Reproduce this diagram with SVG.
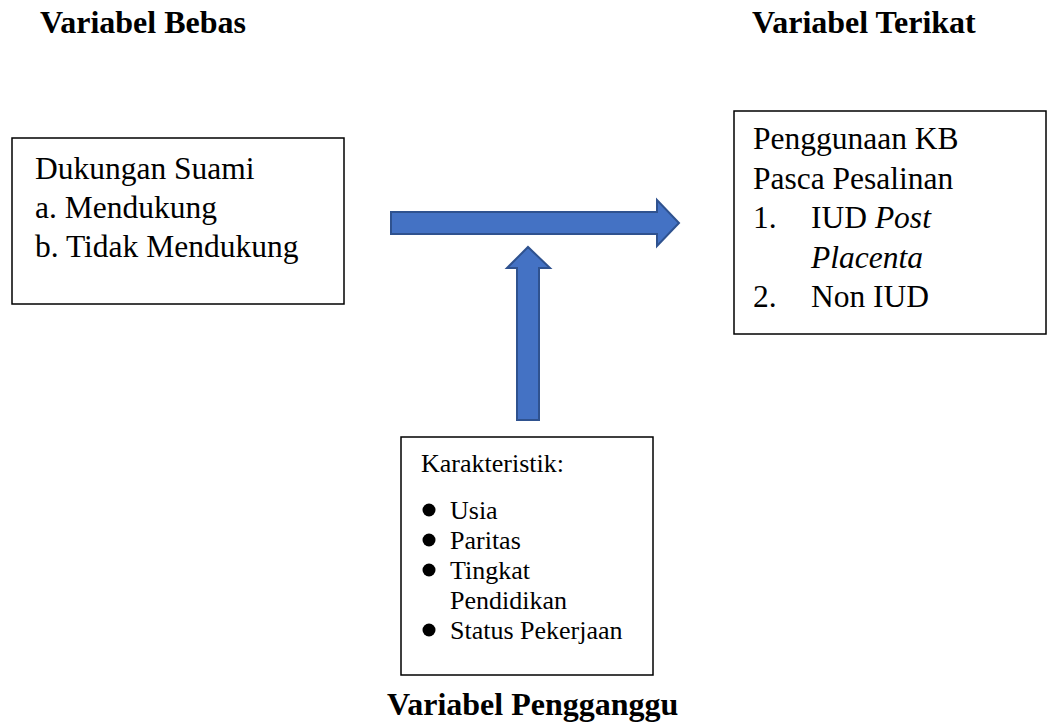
<svg xmlns="http://www.w3.org/2000/svg" width="1047" height="723" viewBox="0 0 1047 723">
<style>
.box{fill:#fff;stroke:#000;stroke-width:1.5}
.arrow{fill:#4472C4;stroke:#2F528F;stroke-width:2;stroke-linejoin:miter}
.title{font-family:"Liberation Serif","Times New Roman",serif;font-weight:bold;font-size:32px;fill:#000}
.t{font-family:"Liberation Serif","Times New Roman",serif;font-size:31.5px;fill:#000}
.s{font-family:"Liberation Serif","Times New Roman",serif;font-size:26px;fill:#000}
.dot{fill:#000}
</style>
<rect width="1047" height="723" fill="#fff"/>
<g id="titles">
<text class="title" x="40" y="33">Variabel Bebas</text>
<text class="title" x="752" y="33">Variabel Terikat</text>
<text class="title" x="387" y="715">Variabel Pengganggu</text>
</g>
<g id="connectors">
<path class="arrow" d="M391,212 L657,212 L657,200 L679,223 L657,246 L657,234 L391,234 Z"/>
<path class="arrow" d="M517,420 L517,268 L507,268 L528,247 L550,268 L539,268 L539,420 Z"/>
</g>
<g id="node-bebas">
<rect class="box" x="12" y="138" width="332" height="166"/>
<text class="t" x="35" y="179">Dukungan Suami</text>
<text class="t" x="35" y="218">a. Mendukung</text>
<text class="t" x="35" y="257">b. Tidak Mendukung</text>
</g>
<g id="node-terikat">
<rect class="box" x="734" y="111" width="312" height="223"/>
<text class="t" x="753" y="149">Penggunaan KB</text>
<text class="t" x="753" y="189">Pasca Pesalinan</text>
<text class="t" x="753" y="228">1.</text>
<text class="t" x="811" y="228">IUD <tspan font-style="italic">Post</tspan></text>
<text class="t" x="811" y="268" font-style="italic">Placenta</text>
<text class="t" x="753" y="307">2.</text>
<text class="t" x="811" y="307">Non IUD</text>
</g>
<g id="node-pengganggu">
<rect class="box" x="401" y="437" width="252" height="238"/>
<text class="s" x="421" y="472">Karakteristik:</text>
<circle class="dot" cx="429" cy="510" r="6.5"/>
<text class="s" x="450" y="519">Usia</text>
<circle class="dot" cx="429" cy="540" r="6.5"/>
<text class="s" x="450" y="549">Paritas</text>
<circle class="dot" cx="429" cy="570" r="6.5"/>
<text class="s" x="450" y="579">Tingkat</text>
<text class="s" x="450" y="609">Pendidikan</text>
<circle class="dot" cx="429" cy="630" r="6.5"/>
<text class="s" x="450" y="639">Status Pekerjaan</text>
</g>
</svg>
